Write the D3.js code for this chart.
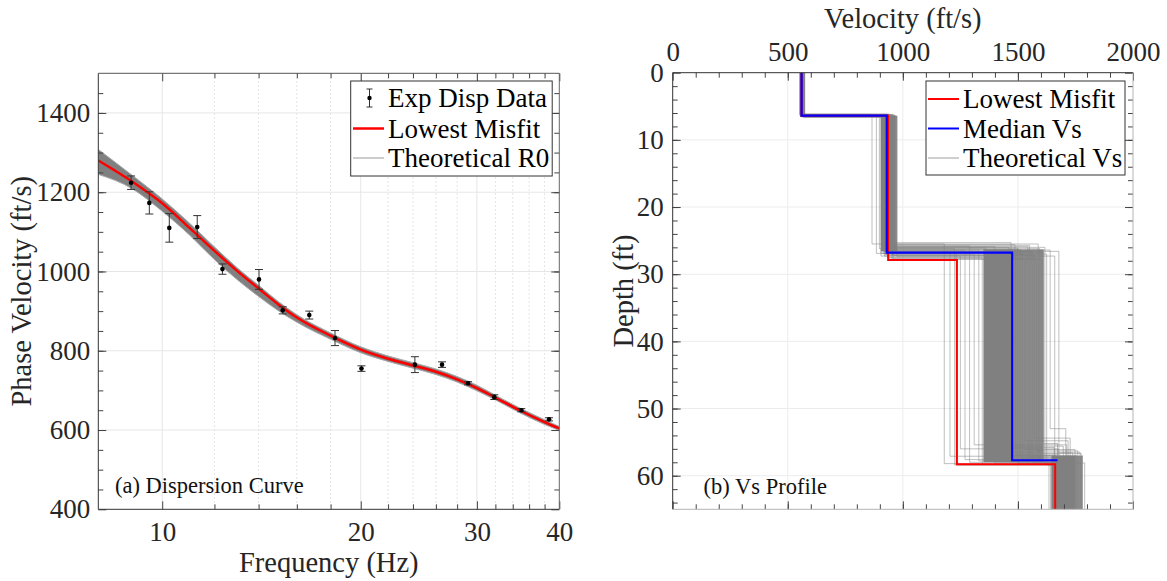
<!DOCTYPE html>
<html>
<head>
<meta charset="utf-8">
<script src="https://cdn.jsdelivr.net/npm/d3@7"></script>
<style>
  body { margin: 0; background: #fff; }
  svg text { font-family: "Liberation Serif", "Times New Roman", serif; }
</style>
</head>
<body>
<svg id="chart" width="1167" height="581"></svg>
<script>
/*************
 Data (a) dispersion curve
**************/
var expFreq = [8.97, 9.56, 10.25, 11.3, 12.34, 14.02, 15.23, 16.71, 18.28, 20.05, 24.16, 26.56, 29.09, 31.88, 35.03, 38.59];
var expVel  = [1224, 1173, 1110, 1112, 1006, 980, 902, 890, 832, 755, 765, 765, 718, 683, 650, 627];
var expErr  = [17, 28, 36, 29, 13, 25, 9, 10, 19, 7, 20, 7, 4, 6, 4, 4];

var curveFreq = [8, 9, 10, 11, 12, 13, 14, 15, 16, 18, 20, 22, 24, 26, 28, 30, 32, 35, 38, 40];
var misfitVel = [1280, 1227, 1172, 1110, 1052, 1001, 957, 917, 884, 838, 803, 780, 763, 747, 728, 706, 682, 648, 620, 604];
var r0Upper   = [1308, 1243, 1183, 1122, 1062, 1009, 965, 924, 891, 845, 810, 787, 770, 754, 735, 713, 688, 654, 626, 609];
var r0Lower   = [1245, 1209, 1152, 1092, 1030, 979, 937, 901, 872, 829, 795, 773, 756, 740, 721, 699, 676, 642, 614, 599];

var freqTicks = [10, 20, 30, 40];
var freqMinor = [12, 14, 16, 18, 22, 24, 26, 28, 32, 34, 36, 38];
var velTicks  = [400, 600, 800, 1000, 1200, 1400];
var velMinor  = d3.range(450, 1500, 50);

/*************
 Data (b) Vs profile
**************/
var misfitVs = [560, 936, 1235, 1662];
var misfitDepth = [6.4, 27.9, 58.3];
var medianVs = [560, 930, 1475, 1672];
var medianDepth = [6.4, 26.8, 57.7];

// dense part of the theoretical profiles, per layer
var coreTop = [0, 6.4, 26.3, 57.0];
var coreBot = [6.4, 26.6, 58.0, 65];
var coreMin = [558, 905, 1350, 1646];
var coreMax = [570, 966, 1482, 1752];
// hatched part next to it
var haloMin = [570, 966, 1482, 1752];
var haloMax = [573, 975, 1612, 1782];

// individual theoretical profiles (spread around the core)
var thV1 = [552, 555, 557, 560, 562, 565, 568, 571, 574, 556, 559, 563, 566, 569, 553, 558, 561, 564, 567, 570, 572, 555, 560, 565, 562, 558, 566, 570,
            554, 557, 561, 564, 568, 571, 556, 559, 563, 567, 570, 562];
var thD1 = [6.2, 6.3, 6.4, 6.5, 6.3, 6.4, 6.6, 6.2, 6.4, 6.5, 6.3, 6.4, 6.2, 6.6, 6.4, 6.5, 6.3, 6.4, 6.5, 6.3, 6.4, 6.2, 6.6, 6.4, 6.3, 6.5, 6.4, 6.3,
            6.3, 6.5, 6.2, 6.4, 6.6, 6.3, 6.5, 6.4, 6.2, 6.5, 6.3, 6.4];
var thV2 = [866, 885, 898, 905, 912, 918, 925, 930, 935, 940, 945, 950, 955, 960, 968, 975, 908, 915, 922, 928, 933, 938, 943, 948, 952, 957, 920, 945,
            912, 926, 937, 949, 958, 964, 918, 931, 942, 953, 962, 905];
var thD2 = [25.5, 26.9, 26.2, 27.3, 26.5, 25.8, 27.0, 26.4, 27.5, 26.1, 26.8, 25.9, 27.2, 26.6, 26.0, 27.4, 26.3, 26.9, 27.1, 25.7, 26.7, 27.6, 26.2, 26.8, 27.0, 26.4, 27.3, 26.6,
            25.3, 25.6, 26.1, 26.4, 27.7, 25.9, 26.6, 27.2, 25.5, 27.8, 26.0, 26.9];
var thV3 = [1180, 1205, 1225, 1250, 1270, 1290, 1310, 1330, 1345, 1360, 1380, 1400, 1420, 1440, 1460, 1490, 1505, 1520, 1535, 1550, 1565, 1580, 1595, 1610, 1625, 1640, 1660, 1678,
            1470, 1487, 1498, 1512, 1528, 1543, 1557, 1572, 1588, 1603, 1617, 1232];
var thD3 = [58.2, 57.1, 58.4, 56.0, 57.6, 58.0, 55.4, 57.8, 58.3, 57.0, 56.5, 58.1, 57.4, 55.8, 57.9, 56.8, 58.2, 57.5, 54.8, 57.2, 58.0, 56.3, 57.7, 55.2, 58.4, 53.0, 57.3, 56.6,
            57.9, 55.6, 58.1, 57.3, 56.1, 58.3, 57.0, 54.4, 57.8, 56.7, 58.0, 58.4];
var thV4 = [1635, 1650, 1662, 1675, 1690, 1700, 1712, 1725, 1740, 1755, 1770, 1790, 1645, 1658, 1668, 1682, 1695, 1705, 1718, 1730, 1745, 1760, 1650, 1672, 1688, 1708, 1722, 1738,
            1660, 1697, 1735, 1680, 1748, 1712, 1666, 1727, 1692, 1775, 1703, 1642];

var spdTicks = [0, 500, 1000, 1500, 2000];
var spdMinor = d3.range(100, 2000, 100);
var depthTicks = [0, 10, 20, 30, 40, 50, 60];
var depthMinor = d3.range(2, 66, 2);

/*************
 Helpers
**************/
var svg = d3.select("#chart");

function axis(gen, tx, ty, vals, size, pad, withLabels) {
  var g = svg.append("g")
    .attr("transform", "translate(" + tx + "," + ty + ")")
    .call(gen.tickValues(vals).tickSize(-size).tickPadding(pad)
      .tickFormat(withLabels ? d3.format("d") : function () { return ""; }));
  g.select(".domain").remove();
  g.selectAll("line").attr("stroke", "#444");
  g.selectAll("text").attr("fill", "#262626").attr("font-size", 27)
    .attr("font-family", '"Liberation Serif", serif');
  return g;
}

function stepPoints(vs, ds, endDepth) {
  var pts = [[vs[0], 0]];
  for (var i = 0; i < ds.length; i++) {
    pts.push([vs[i], ds[i]]);
    pts.push([vs[i + 1], ds[i]]);
  }
  if (endDepth != null) pts.push([vs[vs.length - 1], endDepth]);
  return pts;
}

/*************
 (a) Dispersion curve
**************/
var xA = d3.scaleLog().domain([8, 40]).range([98.3, 559.3]);
var yA = d3.scaleLinear().domain([400, 1500]).range([509.3, 73.3]);
var A = { l: 98.3, r: 559.3, t: 73.3, b: 509.3 };

svg.append("clipPath").attr("id", "clipA").append("rect")
  .attr("x", A.l).attr("y", A.t).attr("width", A.r - A.l).attr("height", A.b - A.t);

// grid
svg.append("g").selectAll("line").data(freqMinor).join("line")
  .attr("x1", d => xA(d)).attr("x2", d => xA(d)).attr("y1", A.t).attr("y2", A.b)
  .attr("stroke", "#dcdcdc").attr("stroke-dasharray", "1.5,2.5");
svg.append("g").selectAll("line").data([10, 20, 30]).join("line")
  .attr("x1", d => xA(d)).attr("x2", d => xA(d)).attr("y1", A.t).attr("y2", A.b)
  .attr("stroke", "#e6e6e6");
svg.append("g").selectAll("line").data(velTicks.slice(1)).join("line")
  .attr("x1", A.l).attr("x2", A.r).attr("y1", d => yA(d)).attr("y2", d => yA(d))
  .attr("stroke", "#e6e6e6");

var plotA = svg.append("g").attr("clip-path", "url(#clipA)");

// theoretical R0 band
var band = curveFreq.map((f, i) => ({ f: f, lo: r0Lower[i], hi: r0Upper[i], m: misfitVel[i] }));
plotA.append("path").datum(band)
  .attr("d", d3.area().x(d => xA(d.f)).y0(d => yA(d.lo)).y1(d => yA(d.hi)).curve(d3.curveMonotoneX))
  .attr("fill", "#808080");
["lo", "hi"].forEach(function (k) {
  plotA.append("path").datum(band)
    .attr("d", d3.line().x(d => xA(d.f)).y(d => yA(d[k])).curve(d3.curveMonotoneX))
    .attr("fill", "none").attr("stroke", "#a8a8a8").attr("stroke-width", 1);
});

// lowest misfit
plotA.append("path").datum(band)
  .attr("d", d3.line().x(d => xA(d.f)).y(d => yA(d.m)).curve(d3.curveMonotoneX))
  .attr("fill", "none").attr("stroke", "#ff0000").attr("stroke-width", 2.5);

// experimental data with error bars
var exp = expFreq.map((f, i) => ({ f: f, v: expVel[i], e: expErr[i] }));
var eb = plotA.append("g").selectAll("g").data(exp).join("g")
  .attr("transform", d => "translate(" + xA(d.f) + ",0)");
eb.append("line").attr("x1", 0).attr("x2", 0)
  .attr("y1", d => yA(d.v - d.e)).attr("y2", d => yA(d.v + d.e))
  .attr("stroke", "#333").attr("stroke-width", 1);
eb.append("line").attr("x1", -4).attr("x2", 4)
  .attr("y1", d => yA(d.v - d.e)).attr("y2", d => yA(d.v - d.e))
  .attr("stroke", "#333").attr("stroke-width", 1);
eb.append("line").attr("x1", -4).attr("x2", 4)
  .attr("y1", d => yA(d.v + d.e)).attr("y2", d => yA(d.v + d.e))
  .attr("stroke", "#333").attr("stroke-width", 1);
eb.append("circle").attr("cx", 0).attr("cy", d => yA(d.v)).attr("r", 2.3).attr("fill", "#000");

// axes (ticks inward)
axis(d3.axisLeft(yA), A.l, 0, velTicks, 8, 8, true);
axis(d3.axisLeft(yA), A.l, 0, velMinor, 5, 8, false);
axis(d3.axisRight(yA), A.r, 0, velTicks, 8, 8, false);
axis(d3.axisRight(yA), A.r, 0, velMinor, 5, 8, false);
axis(d3.axisBottom(xA), 0, A.b, freqTicks, 8, 13, true);
axis(d3.axisBottom(xA), 0, A.b, freqMinor, 5, 13, false);
axis(d3.axisTop(xA), 0, A.t, freqTicks, 8, 8, false);
axis(d3.axisTop(xA), 0, A.t, freqMinor, 5, 8, false);

svg.append("line").attr("x1", A.l).attr("x2", A.l).attr("y1", A.t).attr("y2", A.b).attr("stroke", "#333");
svg.append("line").attr("x1", A.l).attr("x2", A.r).attr("y1", A.b).attr("y2", A.b).attr("stroke", "#333");
svg.append("line").attr("x1", A.r).attr("x2", A.r).attr("y1", A.t).attr("y2", A.b).attr("stroke", "#666");
svg.append("line").attr("x1", A.l).attr("x2", A.r).attr("y1", A.t).attr("y2", A.t).attr("stroke", "#555");

svg.append("text").attr("x", (A.l + A.r) / 2).attr("y", 572).attr("text-anchor", "middle")
  .attr("font-size", 28.5).attr("fill", "#262626").text("Frequency (Hz)");
svg.append("text").attr("transform", "translate(21," + (A.t + A.b) / 2 + ") rotate(-90)")
  .attr("dy", "0.35em").attr("text-anchor", "middle")
  .attr("font-size", 28.5).attr("fill", "#262626").text("Phase Velocity (ft/s)");
svg.append("text").attr("x", 115).attr("y", 493).attr("font-size", 22.5).attr("fill", "#111")
  .text("(a) Dispersion Curve");

// legend (a)
var legA = svg.append("g");
legA.append("rect").attr("x", 350.7).attr("y", 81).attr("width", 201.5).attr("height", 95)
  .attr("fill", "#fff").attr("stroke", "#333");
var legAItems = ["Exp Disp Data", "Lowest Misfit", "Theoretical R0"];
var legABase = [107, 137.5, 167];
legA.selectAll("text").data(legAItems).join("text")
  .attr("x", 388).attr("y", (d, i) => legABase[i]).attr("font-size", 27).attr("fill", "#000").text(d => d);
legA.append("line").attr("x1", 369.5).attr("x2", 369.5).attr("y1", 89).attr("y2", 107).attr("stroke", "#333");
legA.append("line").attr("x1", 366.5).attr("x2", 372.5).attr("y1", 89).attr("y2", 89).attr("stroke", "#333");
legA.append("line").attr("x1", 366.5).attr("x2", 372.5).attr("y1", 107).attr("y2", 107).attr("stroke", "#333");
legA.append("circle").attr("cx", 369.5).attr("cy", 98).attr("r", 2.2).attr("fill", "#000");
legA.append("line").attr("x1", 353).attr("x2", 384).attr("y1", 128.5).attr("y2", 128.5)
  .attr("stroke", "#ff0000").attr("stroke-width", 2.5);
legA.append("line").attr("x1", 353).attr("x2", 384).attr("y1", 158).attr("y2", 158)
  .attr("stroke", "#9a9a9a").attr("stroke-width", 1);

/*************
 (b) Vs profile
**************/
var xB = d3.scaleLinear().domain([0, 2000]).range([672.7, 1133]);
var yB = d3.scaleLinear().domain([0, 65]).range([72.7, 509.3]);
var B = { l: 672.7, r: 1133, t: 72.7, b: 509.3 };

svg.append("clipPath").attr("id", "clipB").append("rect")
  .attr("x", B.l).attr("y", B.t).attr("width", B.r - B.l).attr("height", B.b - B.t);

svg.append("g").selectAll("line").data([500, 1000, 1500]).join("line")
  .attr("x1", d => xB(d)).attr("x2", d => xB(d)).attr("y1", B.t).attr("y2", B.b)
  .attr("stroke", "#ececec");
svg.append("g").selectAll("line").data([10, 20, 30, 40, 50, 60]).join("line")
  .attr("x1", B.l).attr("x2", B.r).attr("y1", d => yB(d)).attr("y2", d => yB(d))
  .attr("stroke", "#ececec");

var plotB = svg.append("g").attr("clip-path", "url(#clipB)");
var stepLine = d3.line().x(p => xB(p[0])).y(p => yB(p[1]));

// theoretical Vs: dense core, hatched halo, then single profiles
plotB.append("g").selectAll("rect").data(coreTop).join("rect")
  .attr("x", (d, i) => xB(haloMin[i])).attr("width", (d, i) => xB(haloMax[i]) - xB(haloMin[i]))
  .attr("y", d => yB(d)).attr("height", (d, i) => yB(coreBot[i]) - yB(d))
  .attr("fill", "#8d8d8d");
plotB.append("g").selectAll("rect").data(coreTop).join("rect")
  .attr("x", (d, i) => xB(coreMin[i])).attr("width", (d, i) => xB(coreMax[i]) - xB(coreMin[i]))
  .attr("y", d => yB(d)).attr("height", (d, i) => yB(coreBot[i]) - yB(d))
  .attr("fill", "#808080");
var thProfiles = thV1.map((v, i) => stepPoints([thV1[i], thV2[i], thV3[i], thV4[i]], [thD1[i], thD2[i], thD3[i]], 66));
plotB.append("g").selectAll("path").data(thProfiles).join("path")
  .attr("d", stepLine).attr("fill", "none")
  .attr("stroke", "#808080").attr("stroke-opacity", 0.5).attr("stroke-width", 1);

plotB.append("path").datum(stepPoints(misfitVs, misfitDepth, 66)).attr("d", stepLine)
  .attr("fill", "none").attr("stroke", "#ff0000").attr("stroke-width", 2);
plotB.append("path").datum(stepPoints(medianVs, medianDepth, null)).attr("d", stepLine)
  .attr("fill", "none").attr("stroke", "#0000ff").attr("stroke-width", 2.2);

axis(d3.axisTop(xB), 0, B.t, spdTicks, 8, 12, true);
axis(d3.axisTop(xB), 0, B.t, spdMinor, 5, 12, false);
axis(d3.axisBottom(xB), 0, B.b, spdTicks, 8, 12, false);
axis(d3.axisBottom(xB), 0, B.b, spdMinor, 5, 12, false);
axis(d3.axisLeft(yB), B.l, 0, depthTicks, 8, 9, true);
axis(d3.axisLeft(yB), B.l, 0, depthMinor, 5, 9, false);
axis(d3.axisRight(yB), B.r, 0, depthTicks, 8, 9, false);
axis(d3.axisRight(yB), B.r, 0, depthMinor, 5, 9, false);

svg.append("line").attr("x1", B.l).attr("x2", B.l).attr("y1", B.t).attr("y2", B.b).attr("stroke", "#333");
svg.append("line").attr("x1", B.l).attr("x2", B.r).attr("y1", B.t).attr("y2", B.t).attr("stroke", "#333");
svg.append("line").attr("x1", B.r).attr("x2", B.r).attr("y1", B.t).attr("y2", B.b).attr("stroke", "#b5b5b5");
svg.append("line").attr("x1", B.l).attr("x2", B.r).attr("y1", B.b).attr("y2", B.b).attr("stroke", "#b5b5b5");

svg.append("text").attr("x", (B.l + B.r) / 2).attr("y", 28).attr("text-anchor", "middle")
  .attr("font-size", 28.5).attr("fill", "#262626").text("Velocity (ft/s)");
svg.append("text").attr("transform", "translate(623," + (B.t + B.b) / 2 + ") rotate(-90)")
  .attr("dy", "0.35em").attr("text-anchor", "middle")
  .attr("font-size", 28.5).attr("fill", "#262626").text("Depth (ft)");
svg.append("text").attr("x", 703.6).attr("y", 494).attr("font-size", 22.5).attr("fill", "#111")
  .text("(b) Vs Profile");

// legend (b)
var legB = svg.append("g");
legB.append("rect").attr("x", 926).attr("y", 81).attr("width", 199).attr("height", 94)
  .attr("fill", "#fff").attr("stroke", "#333");
var legBItems = ["Lowest Misfit", "Median Vs", "Theoretical Vs"];
var legBColor = ["#ff0000", "#0000ff", "#b0b0b0"];
var legBBase = [108, 137.5, 167];
legB.selectAll("text").data(legBItems).join("text")
  .attr("x", 963).attr("y", (d, i) => legBBase[i]).attr("font-size", 27).attr("fill", "#000").text(d => d);
legB.selectAll("line").data(legBItems).join("line")
  .attr("x1", 928).attr("x2", 959)
  .attr("y1", (d, i) => legBBase[i] - 9).attr("y2", (d, i) => legBBase[i] - 9)
  .attr("stroke", (d, i) => legBColor[i]).attr("stroke-width", (d, i) => i < 2 ? 2 : 1.2);
</script>
</body>
</html>
